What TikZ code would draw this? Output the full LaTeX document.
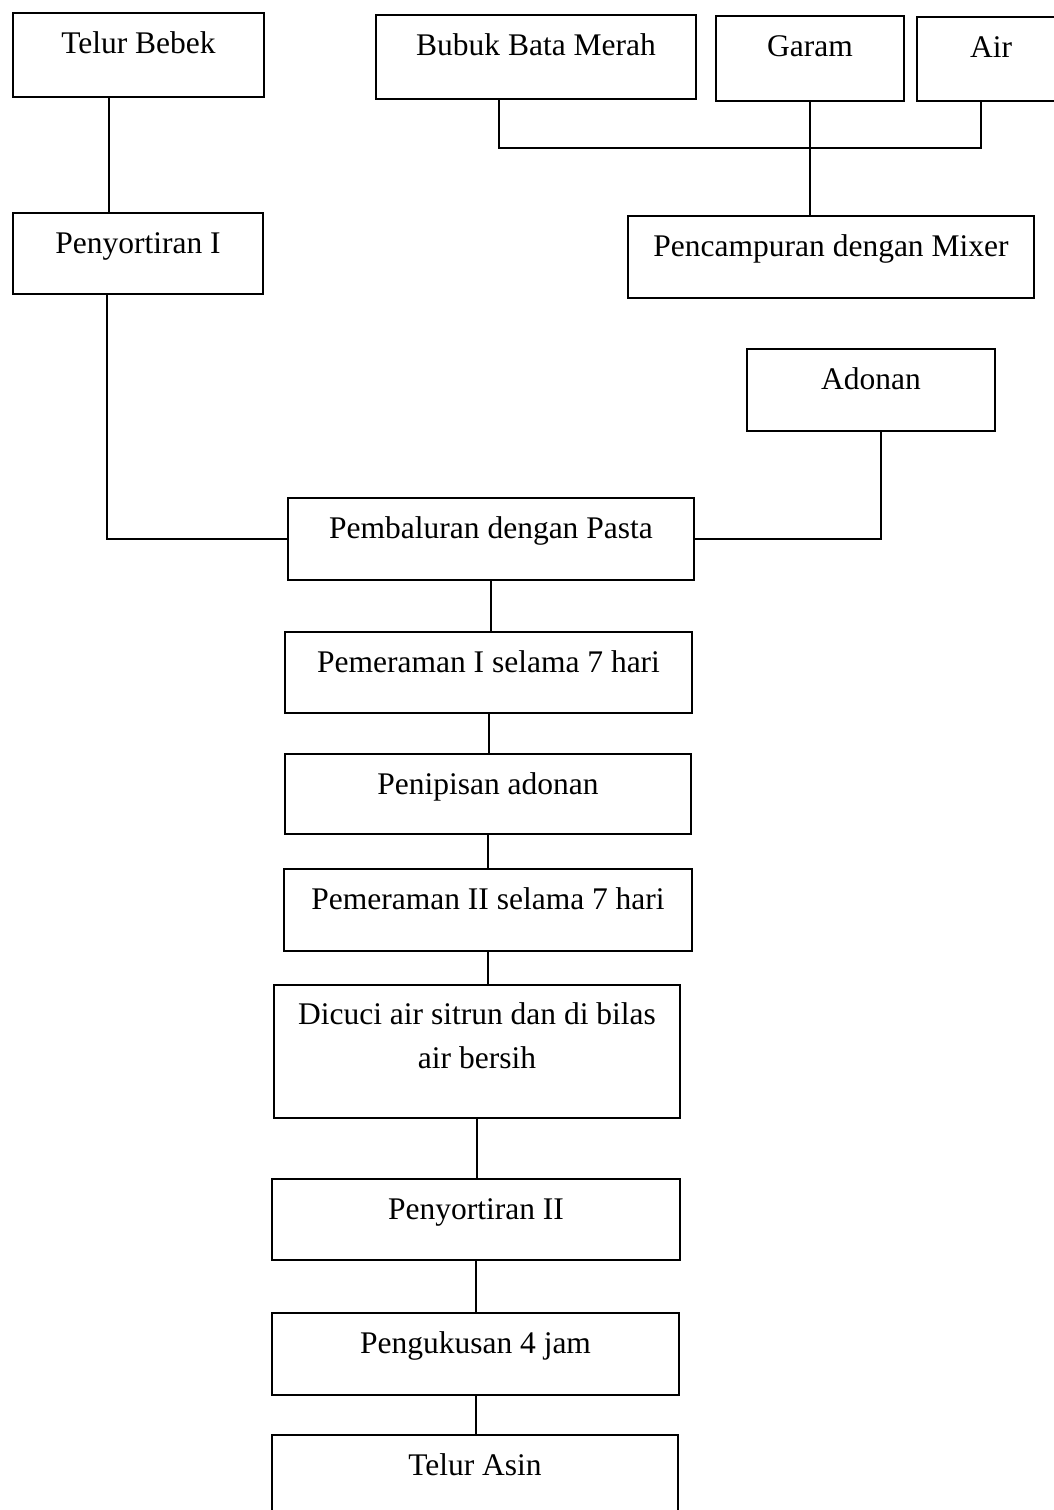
\documentclass[tikz,border=0pt]{standalone}
\usepackage{fontspec}
\setmainfont{Liberation Serif}
\usepackage{tikz}
\usetikzlibrary{positioning, calc}
\tikzset{
  stepbox/.style={
    rectangle, draw=black, line width=1pt, anchor=north west,
    inner sep=0pt, align=center, text height=20pt, text depth=#1,
    font=\fontsize{15.75}{22}\selectfont
  },
  stepbox/.default=21pt,
  link/.style={draw=black, line width=1pt}
}

\begin{document}
\begin{tikzpicture}[x=0.5pt, y=-0.5pt]
  \useasboundingbox[fill=white] (0,0) rectangle (1054,1510);

  %% Bahan
  \node[stepbox=22pt, minimum width=125.5pt] (telur)  at (12,12)  {Telur Bebek};
  \node[stepbox=22pt, minimum width=160pt]   (bubuk)  at (375,14) {Bubuk Bata Merah};
  \node[stepbox=22.5pt, minimum width=94pt]  (garam)  at (715,15) {Garam};
  \node[stepbox=22pt, minimum width=74pt]    (air)    at (916,16) {Air};

  \node[stepbox=20.5pt, minimum width=125pt] (peny1)  at (12,212)  {Penyortiran I};
  \node[stepbox=21pt, minimum width=203pt]   (mixer)  at (627,215) {Pencampuran dengan Mixer};
  \node[stepbox=21pt, minimum width=124pt]   (adonan) at (746,348) {Adonan};

  %% Proses
  \node[stepbox=21pt, minimum width=203pt]   (pasta)  at (287,497) {Pembaluran dengan Pasta};
  \node[stepbox=20.5pt, minimum width=203.5pt] (peram1) at (284,631) {Pemeraman I selama 7 hari};
  \node[stepbox=20pt, minimum width=203pt]   (tipis)  at (284,753) {Penipisan adonan};
  \node[stepbox=21pt, minimum width=204pt]   (peram2) at (283,868) {Pemeraman II selama 7 hari};
  \node[stepbox=25pt, text height=41.5pt, minimum width=203pt] (cuci) at (273,984)
    {Dicuci air sitrun dan di bilas\\air bersih};
  \node[stepbox=20.5pt, minimum width=204pt] (peny2)  at (271,1178) {Penyortiran II};
  \node[stepbox=21pt, minimum width=203.5pt] (kukus)  at (271,1312) {Pengukusan 4 jam};
  \node[stepbox=22pt, minimum width=203pt]   (asin)   at (271,1434) {Telur Asin};

  %% Garis
  \coordinate (jn) at (809,148);
  \draw[link] ([xshift=-18.5pt]bubuk.south) |- (jn) -| ([xshift=-5pt]air.south);
  \draw[link] (garam.south) -- (garam.south |- mixer.north);
  \draw[link] ([xshift=-14.75pt]telur.south) -- ([xshift=-14.75pt]telur.south |- peny1.north);
  \draw[link] ([xshift=-15.5pt]peny1.south) |- (pasta.west);
  \draw[link] ([xshift=5pt]adonan.south) |- (pasta.east);
  \foreach \a/\b in {pasta/peram1, peram1/tipis, tipis/peram2, peram2/cuci,
                     cuci/peny2, peny2/kukus, kukus/asin}
    \draw[link] (\a.south) -- (\a.south |- \b.north);

\end{tikzpicture}
\end{document}
